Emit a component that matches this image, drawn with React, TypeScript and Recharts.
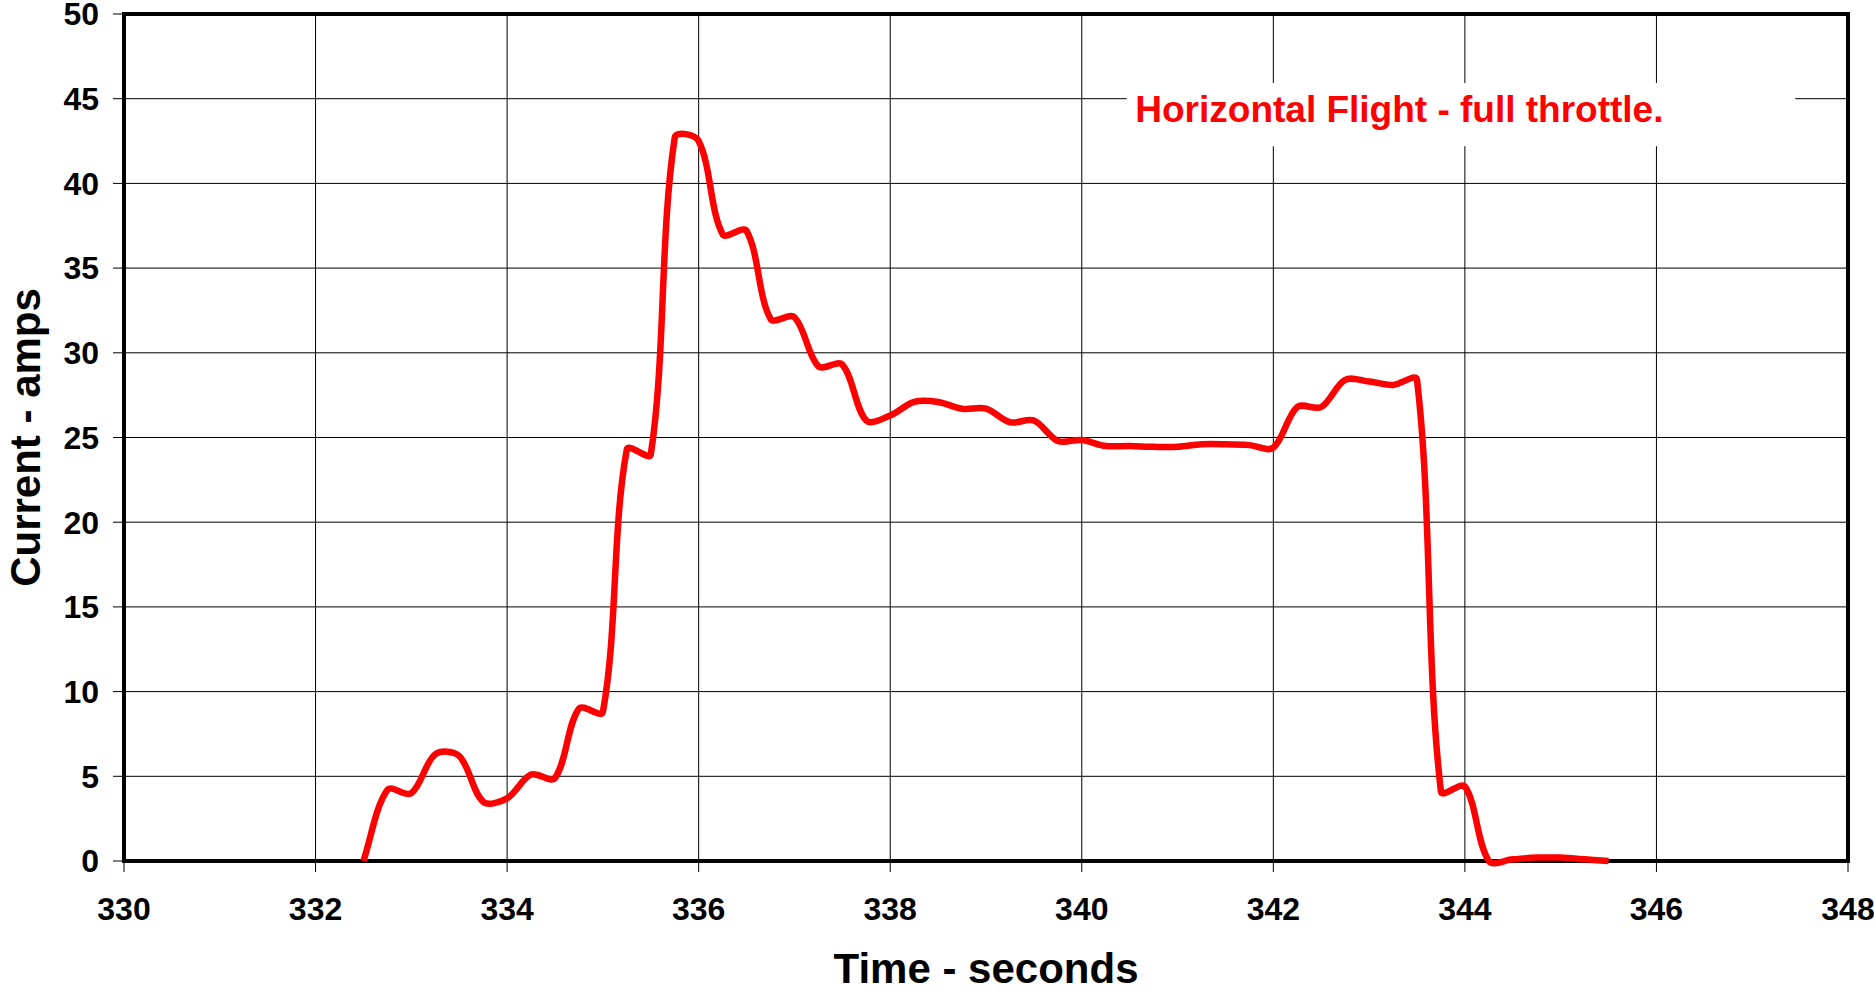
import React from 'react';
import { LineChart, Line, XAxis, YAxis, CartesianGrid, ReferenceArea } from 'recharts';

// Time (s) and current (A) samples
const times = [
  332.5, 332.75, 333.0, 333.25, 333.5, 333.75, 334.0, 334.25, 334.5, 334.75,
  335.0, 335.25, 335.5, 335.75, 336.0, 336.25, 336.5, 336.75, 337.0, 337.25,
  337.5, 337.75, 338.0, 338.25, 338.5, 338.75, 339.0, 339.25, 339.5, 339.75,
  340.0, 340.25, 340.5, 340.75, 341.0, 341.25, 341.5, 341.75, 342.0, 342.25,
  342.5, 342.75, 343.0, 343.25, 343.5, 343.75, 344.0, 344.25, 344.5, 344.75,
  345.0, 345.25, 345.5,
];
const current = [
  0, 4.2, 4.0, 6.3, 6.2, 3.5, 3.7, 5.1, 4.9, 9.0,
  8.8, 24.3, 24.0, 42.7, 42.5, 37.0, 37.2, 32.0, 32.1, 29.2,
  29.3, 26.0, 26.3, 27.1, 27.1, 26.7, 26.7, 25.9, 26.0, 24.8,
  24.85, 24.5, 24.5, 24.45, 24.45, 24.6, 24.6, 24.55, 24.4, 26.8,
  26.8, 28.4, 28.3, 28.1, 28.4, 4.1, 4.4, 0, 0.1, 0.2,
  0.2, 0.1, 0,
];
const xTicks = [330, 332, 334, 336, 338, 340, 342, 344, 346, 348];
const yTicks = [0, 5, 10, 15, 20, 25, 30, 35, 40, 45, 50];
const annotationText = 'Horizontal Flight - full throttle.';
const xTitle = 'Time - seconds';
const yTitle = 'Current - amps';

const data = times.map((t, i) => ({ t, v: current[i] }));

const FONT = '"Liberation Sans", Arial, Helvetica, sans-serif';

// Excel-like smoothed line: Bezier with tangents weighted by adjacent segment lengths
function excelSmooth(context: any) {
  let pts: number[][] = [];
  const dist = (a: number[], b: number[]) => Math.hypot(b[0] - a[0], b[1] - a[1]);
  return {
    areaStart() {},
    areaEnd() {},
    lineStart() {
      pts = [];
    },
    lineEnd() {
      const n = pts.length;
      if (!n) return;
      context.moveTo(pts[0][0], pts[0][1]);
      if (n === 1) return;
      const f = 1 / 3;
      // control points out (after) and in (before) for each point
      const outC: number[][] = [];
      const inC: number[][] = [];
      for (let i = 0; i < n; i++) {
        const p = pts[i];
        const prev = pts[i - 1] || p;
        const next = pts[i + 1] || p;
        const d0 = dist(prev, p);
        const d1 = dist(p, next);
        const sum = d0 + d1 || 1;
        const dx = next[0] - prev[0];
        const dy = next[1] - prev[1];
        outC[i] = [p[0] + dx * f * (d1 / sum), p[1] + dy * f * (d1 / sum)];
        inC[i] = [p[0] - dx * f * (d0 / sum), p[1] - dy * f * (d0 / sum)];
      }
      for (let i = 0; i < n - 1; i++) {
        const p2 = pts[i + 1];
        context.bezierCurveTo(outC[i][0], outC[i][1], inC[i + 1][0], inC[i + 1][1], p2[0], p2[1]);
      }
    },
    point(x: number, y: number) {
      pts.push([+x, +y]);
    },
  };
}

export default function App() {
  return (
    <div style={{ position: 'absolute', left: 0, top: 0, width: 1874, height: 992, background: '#fff' }}>
      <LineChart
        width={1874}
        height={992}
        data={data}
        margin={{ top: 14, right: 26, bottom: 0, left: 0 }}
      >
        <CartesianGrid stroke="#000" strokeWidth={1} />
        <XAxis
          dataKey="t"
          type="number"
          domain={[330, 348]}
          ticks={xTicks}
          interval={0}
          height={131}
          axisLine={false}
          tickLine={{ stroke: '#000', strokeWidth: 1 }}
          tickSize={11}
          tickMargin={25}
          tick={{ fill: '#000', fontSize: 32, fontWeight: 'bold', fontFamily: FONT }}
          label={(props: any) => {
            const vb = props.viewBox;
            return (
              <text
                x={vb.x + vb.width / 2}
                y={vb.y + 122}
                textAnchor="middle"
                fill="#000"
                fontSize={42}
                fontWeight="bold"
                fontFamily={FONT}
              >
                {xTitle}
              </text>
            );
          }}
        />
        <YAxis
          type="number"
          domain={[0, 50]}
          ticks={yTicks}
          interval={0}
          width={124}
          axisLine={false}
          tickLine={{ stroke: '#000', strokeWidth: 1 }}
          tickSize={11}
          tickMargin={14}
          tick={{ fill: '#000', fontSize: 32, fontWeight: 'bold', fontFamily: FONT }}
          label={(props: any) => {
            const vb = props.viewBox;
            const cx = vb.x + 40;
            const cy = vb.y + vb.height / 2;
            return (
              <text
                x={cx}
                y={cy}
                transform={`rotate(-90 ${cx} ${cy})`}
                textAnchor="middle"
                fill="#000"
                fontSize={42}
                fontWeight="bold"
                fontFamily={FONT}
              >
                {yTitle}
              </text>
            );
          }}
        />
        <ReferenceArea
          x1={340.47}
          x2={347.45}
          y1={42.2}
          y2={45.93}
          fill="#fff"
          fillOpacity={1}
          stroke="none"
          ifOverflow="visible"
          label={(props: any) => {
            const vb = props.viewBox;
            return (
              <text
                x={vb.x + 8.5}
                y={vb.y + 39}
                fill="#ff0000"
                fontSize={37}
                fontWeight="bold"
                fontFamily={FONT}
              >
                {annotationText}
              </text>
            );
          }}
        />
        <ReferenceArea
          x1={330}
          x2={348}
          y1={0}
          y2={50}
          fill="none"
          stroke="#000"
          strokeWidth={4}
          ifOverflow="visible"
        />
        <Line
          dataKey="v"
          type={excelSmooth as any}
          stroke="#ff0000"
          strokeWidth={6.5}
          dot={false}
          activeDot={false}
          strokeLinejoin="round"
          isAnimationActive={false}
        />
      </LineChart>
    </div>
  );
}
